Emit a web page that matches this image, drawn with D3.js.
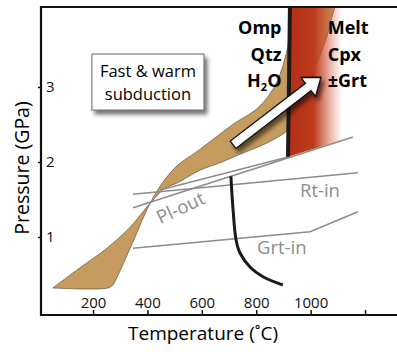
<!DOCTYPE html>
<html>
<head>
<meta charset="utf-8">
<script src="https://cdn.jsdelivr.net/npm/d3@7"></script>
<style>
  body { margin: 0; background: #fff; }
  svg { display: block; font-family: "Open Sans", "Noto Sans", sans-serif; }
</style>
</head>
<body>
<div id="chart"></div>
<script>
// temperature (C) / pressure (GPa) pairs
var xTicks = [200, 400, 600, 800, 1000, 1200];
var xTickLabels = ["200", "400", "600", "800", "1000", ""];
var yTicks = [1, 2, 3];

// the two crossing edges of the subduction P-T band
var bandEdgeA = [[52, 0.32], [152, 0.59], [251, 0.85], [336, 1.13], [410, 1.45], [465, 1.65],
    [509, 1.72], [593, 1.89], [667, 1.99], [751, 2.12], [814, 2.21], [869, 2.31], [917, 2.43],
    [950, 2.69], [990, 3.03], [1027, 3.36], [1060, 3.67], [1075, 3.89], [1090, 4.07]];
var bandEdgeB = [[52, 0.32], [255, 0.32], [273, 0.36], [292, 0.49], [351, 0.97], [410, 1.45],
    [457, 1.73], [512, 1.96], [575, 2.12], [648, 2.32], [722, 2.52], [796, 2.69], [843, 2.87],
    [876, 3.07], [898, 3.28], [913, 3.49], [928, 3.69], [961, 3.89], [1005, 4.07]];

var solidus = [[924, 4.07], [917, 2.07]];
var meltZone = [[924, 4.07], [1150, 4.07], [1150, 2.33], [917, 2.07]];
var dehydration = [[707, 1.81], [715, 1.36], [726, 0.96], [740, 0.79], [777, 0.60], [825, 0.47], [898, 0.36]];

var rtIn = [[347, 1.569], [1174, 1.857]];
var plOut = [[347, 1.391], [1156, 2.333]];
var plOut2 = [[446, 1.627], [917, 2.067]];
var grtIn = [[347, 0.849], [998, 1.071], [1174, 1.337]];

var arrowFrom = [715, 2.23], arrowTo = [1038, 3.13];

var w = 397, h = 352;
var x = d3.scaleLinear().domain([200, 1200]).range([93, 365]);
var y = d3.scaleLinear().domain([1, 3]).range([237, 87]);
var frameL = 41, frameT = 7, frameB = 315;

var svg = d3.select("#chart").append("svg")
    .attr("width", w)
    .attr("height", h);

var defs = svg.append("defs");
var shadow = defs.append("filter").attr("id", "shadow")
    .attr("x", "-20%").attr("y", "-20%").attr("width", "150%").attr("height", "160%");
shadow.append("feDropShadow")
    .attr("dx", 3).attr("dy", 4).attr("stdDeviation", 2.2)
    .attr("flood-color", "#000").attr("flood-opacity", 0.55);

var grad = defs.append("linearGradient").attr("id", "melt")
    .attr("gradientUnits", "userSpaceOnUse")
    .attr("x1", x(917)).attr("x2", x(1130)).attr("y1", 0).attr("y2", 0);
var gx = function(px) { return (px - x(917)) / (x(1130) - x(917)); };
grad.append("stop").attr("offset", 0).attr("stop-color", "#b32e17").attr("stop-opacity", 1);
grad.append("stop").attr("offset", gx(314)).attr("stop-color", "#be3b1d").attr("stop-opacity", 1);
grad.append("stop").attr("offset", gx(342)).attr("stop-color", "#d65a3a").attr("stop-opacity", 0);

defs.append("clipPath").attr("id", "plot")
    .append("rect").attr("x", frameL).attr("y", frameT).attr("width", w - frameL).attr("height", frameB - frameT);

var line = d3.line().x(function(d) { return x(d[0]); }).y(function(d) { return y(d[1]); });
var smooth = d3.line().x(function(d) { return x(d[0]); }).y(function(d) { return y(d[1]); }).curve(d3.curveCatmullRom);

var plot = svg.append("g").attr("clip-path", "url(#plot)");

// P-T band (figure of eight)
plot.append("path")
    .attr("d", smooth(bandEdgeA) + "L" + smooth(bandEdgeB.slice().reverse()).slice(1) + "Z")
    .attr("fill", "#c59b5f")
    .attr("stroke", "#4d3d24")
    .attr("stroke-width", 0.6);

// melt field
plot.append("path")
    .attr("d", line(meltZone) + "Z")
    .attr("fill", "url(#melt)");

// reaction lines
[rtIn, plOut, plOut2, grtIn].forEach(function(d) {
    plot.append("path")
        .attr("d", line(d))
        .attr("fill", "none")
        .attr("stroke", "#8c8c8c")
        .attr("stroke-width", 1.6);
});

plot.append("path")
    .attr("d", line(solidus))
    .attr("fill", "none")
    .attr("stroke", "#1a1a1a")
    .attr("stroke-width", 4);

plot.append("path")
    .attr("d", smooth(dehydration))
    .attr("fill", "none")
    .attr("stroke", "#1a1a1a")
    .attr("stroke-width", 3);

// arrow
var p0 = [x(arrowFrom[0]), y(arrowFrom[1])], p1 = [x(arrowTo[0]), y(arrowTo[1])];
var len = Math.hypot(p1[0] - p0[0], p1[1] - p0[1]);
var ux = (p1[0] - p0[0]) / len, uy = (p1[1] - p0[1]) / len;
var nx = -uy, ny = ux;
var sw = 4.6, hw = 12, hl = 16;
var bx = p1[0] - ux * hl, by = p1[1] - uy * hl;
var arrowPts = [
    [p0[0] + nx * sw, p0[1] + ny * sw],
    [bx + nx * sw, by + ny * sw],
    [bx + nx * hw, by + ny * hw],
    p1,
    [bx - nx * hw, by - ny * hw],
    [bx - nx * sw, by - ny * sw],
    [p0[0] - nx * sw, p0[1] - ny * sw]
];
plot.append("polygon")
    .attr("points", arrowPts.map(function(p) { return p.join(","); }).join(" "))
    .attr("fill", "#fff")
    .attr("stroke", "#111")
    .attr("stroke-width", 1.3)
    .attr("filter", "url(#shadow)");

// labels
var gray = "#8c8c8c";
svg.append("text").attr("x", x(961)).attr("y", y(1.537))
    .attr("fill", gray).style("font-size", "18.5px").text("Rt-in");
svg.append("text").attr("x", x(803)).attr("y", y(0.78))
    .attr("fill", gray).style("font-size", "18.5px").text("Grt-in");
svg.append("text")
    .attr("transform", "translate(" + x(522) + "," + y(1.39) + ") rotate(-25)")
    .attr("text-anchor", "middle").attr("dy", "0.35em")
    .attr("fill", gray).style("font-size", "18.5px").text("Pl-out");

var leftMin = ["Omp", "Qtz", "H"], rightMin = ["Melt", "Cpx", "\u00b1Grt"];
var rowP = [3.713, 3.353, 3.0];
leftMin.forEach(function(s, i) {
    var t = svg.append("text").attr("x", x(893)).attr("y", y(rowP[i]))
        .attr("text-anchor", "end").style("font-size", "18px").style("font-weight", "bold").text(s);
    if (s === "H") {
        t.append("tspan").attr("dy", 4).style("font-size", "11px").text("2");
        t.append("tspan").attr("dy", -4).text("O");
    }
});
rightMin.forEach(function(s, i) {
    svg.append("text").attr("x", x(1063)).attr("y", y(rowP[i]))
        .style("font-size", "18px").style("font-weight", "bold").text(s);
});

// caption box
var box = svg.append("g");
box.append("rect")
    .attr("x", x(196)).attr("y", y(3.44))
    .attr("width", x(608) - x(196)).attr("height", y(2.693) - y(3.44))
    .attr("fill", "#fff").attr("stroke", "#666").attr("stroke-width", 1)
    .attr("filter", "url(#shadow)");
box.append("text").attr("x", x(402)).attr("y", y(3.13))
    .attr("text-anchor", "middle").style("font-size", "16.5px").text("Fast & warm");
box.append("text").attr("x", x(402)).attr("y", y(2.83))
    .attr("text-anchor", "middle").style("font-size", "16.5px").text("subduction");

// axes
var xAxis = svg.append("g")
    .attr("transform", "translate(0," + frameB + ")")
    .call(d3.axisTop(x).tickValues(xTicks).tickSize(5).tickPadding(2)
        .tickFormat(function(d, i) { return xTickLabels[i]; }));
xAxis.select(".domain").remove();
xAxis.selectAll("line").attr("stroke", "#111").attr("stroke-width", 1.5);
xAxis.selectAll("text").attr("fill", "#111")
    .style("font-family", "'Open Sans', sans-serif").style("font-size", "15px");

var yAxis = svg.append("g")
    .attr("transform", "translate(" + frameL + ",0)")
    .call(d3.axisLeft(y).tickValues(yTicks).tickSize(3).tickFormat(d3.format("d")));
yAxis.select(".domain").remove();
yAxis.selectAll("line").attr("stroke", "#111").attr("stroke-width", 1.5);
yAxis.selectAll("text").attr("x", 5).attr("text-anchor", "start").attr("fill", "#111")
    .style("font-family", "'Open Sans', sans-serif").style("font-size", "15px");

// open frame
svg.append("path")
    .attr("d", "M" + w + "," + frameT + "H" + frameL + "V" + frameB + "H" + w)
    .attr("fill", "none")
    .attr("stroke", "#111")
    .attr("stroke-width", 2.2);

svg.append("text")
    .attr("x", 203).attr("y", 340)
    .attr("text-anchor", "middle")
    .style("font-size", "19px")
    .text("Temperature (\u02daC)");

svg.append("text")
    .attr("transform", "translate(29,168) rotate(-90)")
    .attr("text-anchor", "middle")
    .style("font-size", "19.5px")
    .text("Pressure (GPa)");
</script>
</body>
</html>
